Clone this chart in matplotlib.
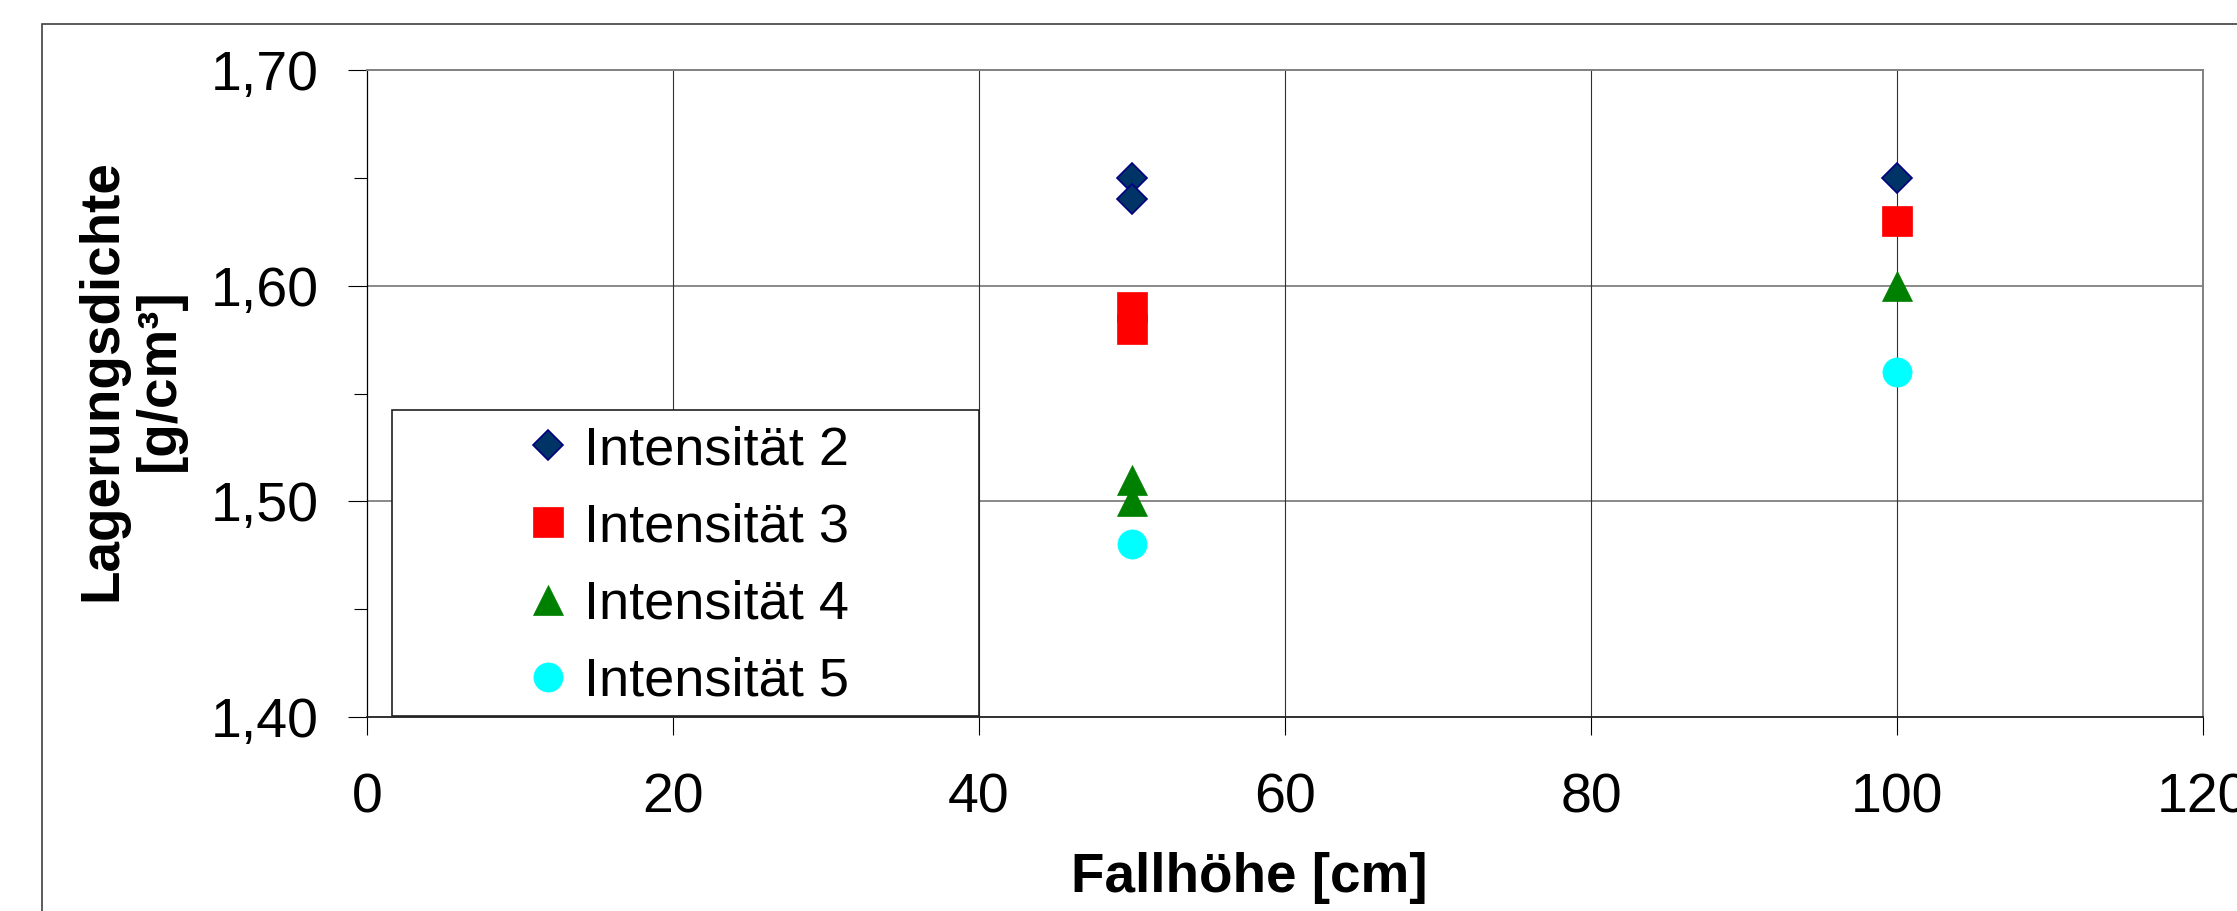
import matplotlib
matplotlib.use("Agg")
import matplotlib.pyplot as plt
from matplotlib.patches import Rectangle
from matplotlib.ticker import FuncFormatter, MultipleLocator

# Fallhöhe [cm] -> Lagerungsdichte [g/cm³], je Intensität
x_int2 = [50, 50, 100]
y_int2 = [1.65, 1.64, 1.65]
x_int3 = [50, 50, 100]
y_int3 = [1.59, 1.58, 1.63]
x_int4 = [50, 50, 100]
y_int4 = [1.51, 1.50, 1.60]
x_int5 = [50, 100]
y_int5 = [1.48, 1.56]
labels = ["Intensität 2", "Intensität 3", "Intensität 4", "Intensität 5"]

x_ticks = [0, 20, 40, 60, 80, 100, 120]
y_ticks = [1.40, 1.50, 1.60, 1.70]

W, H = 2237, 911
plt.rcParams['font.family'] = ['Liberation Sans', 'DejaVu Sans']

fig = plt.figure(figsize=(W / 100, H / 100), dpi=100)
ax = fig.add_axes([367 / W, 1 - 717 / H, (2203 - 367) / W, (717 - 70) / H])

# Punkte
h2, = ax.plot(x_int2, y_int2, ls='none', marker='D', ms=14.8, mfc='#003366', mec='#000080', mew=1.2, zorder=3)
h3, = ax.plot(x_int3, y_int3, ls='none', marker='s', ms=21, mfc='#ff0000', mec='#ff0000', mew=0.5, zorder=3)
h4, = ax.plot(x_int4, y_int4, ls='none', marker='^', ms=21, mfc='#008000', mec='#008000', mew=0.5, zorder=3)
h5, = ax.plot(x_int5, y_int5, ls='none', marker='o', ms=21, mfc='#00ffff', mec='#00ffff', mew=0.5, zorder=3)

ax.set_xlim(0, 120)
ax.set_ylim(1.40, 1.70)
ax.set_xticks(x_ticks)
ax.set_yticks(y_ticks)
ax.yaxis.set_minor_locator(MultipleLocator(0.05))
ax.yaxis.set_major_formatter(FuncFormatter(lambda v, p: f"{v:.2f}".replace('.', ',')))

ax.tick_params(axis='both', which='major', direction='out', width=0.8, color='black', labelsize=40)
ax.tick_params(axis='y', which='major', length=13.7, pad=21)
ax.tick_params(axis='y', which='minor', direction='out', length=9.4, width=0.8)
ax.tick_params(axis='x', which='major', length=13, pad=27)

# Gitter
ax.grid(False)
for yv in y_ticks[1:-1]:
    ax.axhline(yv, color='#808080', lw=1.3, zorder=1)
for xv in x_ticks[1:-1]:
    ax.axvline(xv, color='#303030', lw=0.8, zorder=1)

ax.spines['left'].set_color('black')
ax.spines['left'].set_linewidth(0.9)
ax.spines['bottom'].set_color('#202020')
ax.spines['bottom'].set_linewidth(1.3)
ax.spines['top'].set_color('#808080')
ax.spines['top'].set_linewidth(1.4)
ax.spines['right'].set_color('#808080')
ax.spines['right'].set_linewidth(1.4)

# Achsentitel
fig.text(1249 / W, 1 - 892 / H, "Fallhöhe [cm]", ha='center', va='baseline',
         fontsize=39.5, fontweight='bold')
fig.text(131 / W, 1 - 380 / H, "Lagerungsdichte\n[g/cm³]", rotation=90, ha='center', va='center',
         multialignment='center', fontsize=39.5, fontweight='bold', linespacing=1.12)

# Legendenrahmen + Legende
fig.add_artist(Rectangle((392 / W, 1 - 716 / H), (979 - 392) / W, (716 - 410) / H,
                         transform=fig.transFigure, facecolor='white', edgecolor='#202020',
                         lw=1.2, zorder=4))
fig.legend([h2, h3, h4, h5], labels, loc='center', bbox_to_anchor=(688 / W, 1 - 566 / H),
           frameon=False, fontsize=39, handlelength=0.8, handletextpad=0.26,
           labelspacing=0.5, borderpad=0, borderaxespad=0).set_zorder(5)

# äußerer Diagrammrahmen
fig.add_artist(Rectangle((42 / W, -0.5), 2, 1 - 24 / H + 0.5, transform=fig.transFigure,
                         fill=False, edgecolor='#404040', lw=1.2, zorder=0))

fig.savefig('out.png', dpi=100)
